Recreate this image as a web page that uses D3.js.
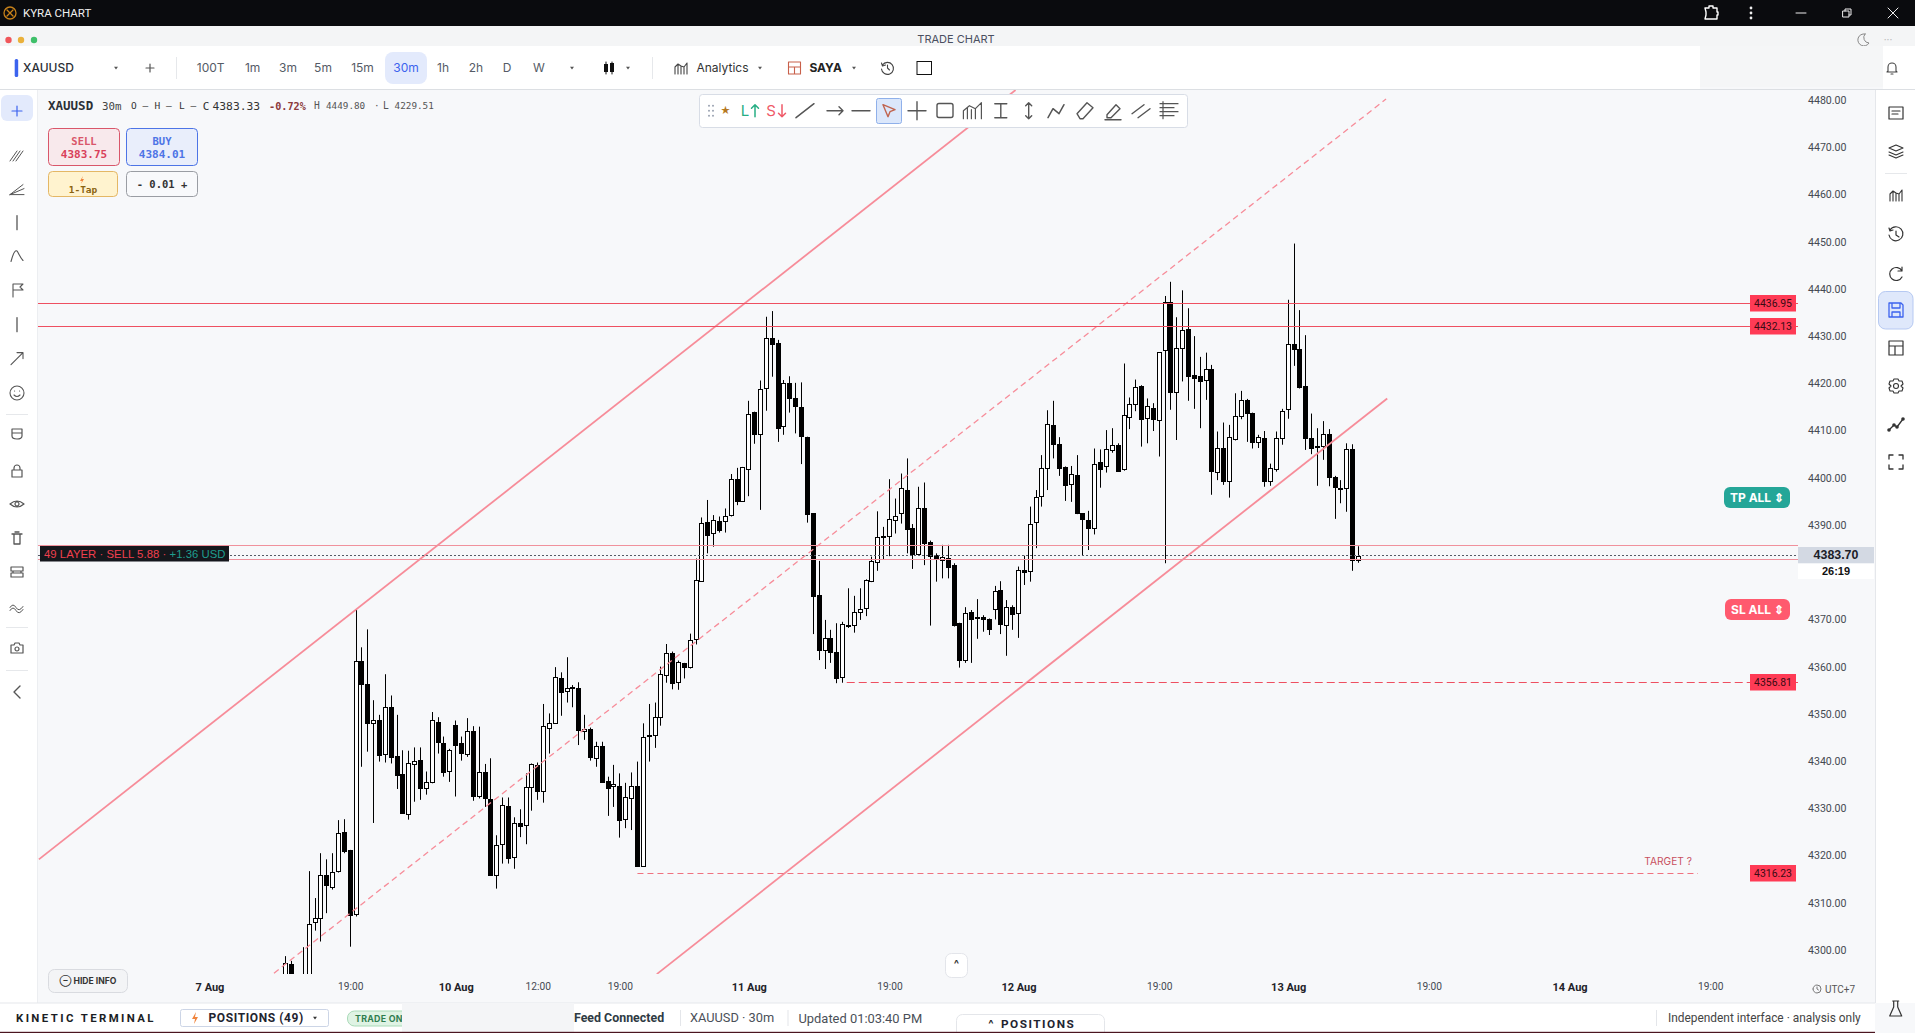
<!DOCTYPE html>
<html>
<head>
<meta charset="utf-8">
<title>KYRA CHART</title>
<script src="https://cdn.jsdelivr.net/npm/d3@7"></script>
<style>
html, body { margin: 0; padding: 0; background: #f7f8fa; overflow: hidden; }
svg { display: block; }
</style>
</head>
<body>
<div id="chart"></div>
<script>
// 30m bars, oldest first
const opens = [
  4292.0,4297.0,4288.0,4289.0,4293.5,4305.8,4306.7,4315.8,4313.4,4316.6,
  4324.9,4321.2,4307.5,4361.1,4356.3,4348.2,4348.6,4341.4,4351.4,4341.1,
  4337.2,4328.7,4339.5,4340.2,4334.2,4335.5,4348.2,4343.9,4337.8,4347.6,
  4343.8,4341.4,4346.3,4332.5,4337.6,4331.9,4315.9,4322.4,4330.4,4319.6,
  4326.8,4326.6,4334.4,4339.1,4333.6,4346.9,4348.2,4357.7,4354.8,4355.6,
  4355.4,4346.4,4346.9,4340.8,4343.3,4335.7,4334.6,4334.7,4327.7,4332.3,
  4334.7,4317.9,4345.5,4345.5,4349.3,4358.2,4362.8,4356.6,4360.8,4359.9,
  4365.8,4378.3,4390.6,4388.2,4390.8,4391.0,4392.0,4399.7,4395.1,4402.0,
  4413.9,4409.3,4419.1,4429.6,4428.5,4410.9,4420.0,4416.8,4414.9,4408.6,
  4392.5,4375.1,4363.4,4366.0,4363.1,4357.7,4368.8,4368.9,4371.7,4372.3,
  4378.0,4382.0,4387.6,4387.6,4391.2,4392.5,4397.5,4389.3,4384.0,4393.7,
  4386.5,4383.6,4382.7,4383.1,4381.5,4369.2,4361.3,4371.5,4370.6,4370.6,
  4370.0,4372.3,4376.2,4368.9,4372.7,4371.3,4380.4,4380.4,4390.6,4396.0,
  4402.0,4411.1,4407.1,4402.3,4398.6,4400.5,4392.5,4391.0,4389.4,4403.3,
  4402.4,4406.0,4406.9,4401.7,4412.9,4415.6,4419.4,4412.5,4414.8,4412.3,
  4427.0,4437.2,4418.1,4427.6,4431.5,4421.8,4421.6,4420.6,4423.0,4401.4,
  4406.4,4399.3,4408.1,4413.0,4416.5,4413.7,4407.5,4408.4,4399.2,4401.9,
  4408.4,4414.5,4428.3,4427.2,4419.4,4408.4,4406.7,4406.6,4409.2,4400.1,
  4397.8,4397.8,4406.2,4382.7
];
const highs = [
  4298.7,4297.7,4293.4,4300.6,4316.7,4311.0,4320.5,4319.2,4320.5,4327.5,
  4327.7,4321.2,4372.0,4364.1,4367.9,4352.9,4349.8,4358.4,4353.9,4349.8,
  4342.3,4342.2,4342.9,4342.9,4337.8,4350.4,4349.3,4345.2,4342.6,4348.6,
  4345.2,4349.1,4347.4,4347.3,4339.4,4340.6,4324.3,4332.3,4332.3,4328.1,
  4329.8,4337.4,4339.5,4339.7,4352.1,4350.1,4359.9,4358.8,4362.0,4356.1,
  4356.7,4349.8,4347.1,4344.1,4344.1,4336.7,4339.2,4337.4,4335.4,4337.6,
  4339.9,4348.0,4352.1,4352.4,4360.0,4364.8,4363.2,4361.3,4360.8,4367.0,
  4382.9,4391.6,4395.3,4392.1,4391.8,4393.5,4400.8,4402.1,4402.3,4416.3,
  4414.0,4420.6,4434.1,4435.3,4429.2,4420.7,4421.5,4420.1,4420.2,4408.7,
  4392.5,4382.4,4369.9,4367.8,4369.2,4369.5,4376.6,4375.0,4376.6,4378.5,
  4383.3,4392.9,4389.6,4399.7,4395.6,4400.9,4404.1,4390.2,4398.1,4399.0,
  4386.7,4384.0,4385.8,4385.8,4381.9,4369.3,4372.6,4372.0,4374.3,4370.9,
  4370.2,4377.1,4378.1,4374.1,4373.0,4381.2,4383.5,4393.9,4397.4,4404.8,
  4414.3,4416.3,4408.6,4402.4,4402.5,4404.8,4392.5,4393.0,4406.2,4406.0,
  4410.1,4410.5,4407.3,4424.2,4417.0,4420.8,4419.6,4416.8,4415.8,4426.6,
  4438.5,4441.5,4434.0,4439.7,4435.9,4430.0,4425.6,4426.5,4423.9,4409.8,
  4411.7,4411.2,4417.9,4418.4,4416.7,4413.8,4409.1,4409.9,4403.0,4409.8,
  4414.6,4437.7,4449.6,4435.5,4430.2,4413.6,4410.5,4412.0,4410.3,4400.4,
  4399.5,4407.3,4407.1,4385.5
];
const lows = [
  4290.5,4289.0,4285.0,4286.0,4290.0,4304.1,4301.8,4307.8,4312.8,4316.4,
  4320.5,4300.7,4307.1,4338.8,4342.0,4326.9,4339.9,4339.7,4339.5,4334.1,
  4328.8,4327.6,4331.4,4331.8,4332.9,4335.3,4341.6,4336.7,4335.6,4332.5,
  4340.1,4340.9,4331.6,4332.1,4330.3,4315.9,4313.0,4318.3,4318.3,4317.2,
  4323.9,4322.4,4329.5,4331.8,4331.2,4341.6,4348.0,4349.6,4352.4,4351.4,
  4343.4,4344.5,4340.1,4338.8,4335.5,4328.4,4330.3,4323.8,4325.8,4325.4,
  4317.8,4317.6,4339.9,4342.8,4347.5,4356.6,4355.2,4355.1,4357.5,4359.6,
  4364.7,4378.2,4384.0,4385.4,4388.4,4388.4,4391.8,4394.2,4394.9,4396.1,
  4407.2,4393.2,4414.2,4421.4,4407.6,4409.1,4413.8,4409.4,4402.9,4390.5,
  4366.9,4361.4,4359.5,4360.8,4356.5,4356.6,4368.2,4367.2,4369.9,4370.7,
  4377.9,4380.3,4382.6,4383.4,4388.2,4390.3,4384.0,4380.7,4383.6,4381.5,
  4368.7,4378.0,4378.7,4378.7,4368.5,4359.8,4360.8,4360.8,4365.9,4367.4,
  4366.7,4370.0,4366.9,4362.3,4367.8,4366.1,4377.3,4378.0,4385.1,4393.9,
  4397.4,4404.1,4400.4,4395.1,4394.9,4392.3,4383.5,4384.7,4388.0,4397.9,
  4401.1,4405.3,4401.3,4401.5,4410.3,4414.1,4406.6,4407.3,4409.9,4404.5,
  4381.9,4414.4,4408.0,4420.4,4416.3,4414.6,4410.5,4416.5,4396.4,4399.5,
  4398.5,4395.8,4407.9,4412.4,4407.6,4406.2,4406.3,4398.1,4398.3,4401.3,
  4407.0,4412.5,4423.7,4418.9,4405.9,4405.0,4398.3,4403.8,4398.2,4391.3,
  4394.6,4392.8,4380.3,4382.0
];
const closes = [
  4297.2,4291.0,4291.0,4293.5,4305.6,4306.7,4315.8,4313.6,4316.6,4324.7,
  4320.8,4307.5,4361.1,4356.3,4348.0,4348.8,4341.2,4351.4,4340.8,4337.1,
  4328.9,4339.5,4340.1,4334.2,4335.5,4348.6,4343.9,4337.8,4342.3,4343.3,
  4341.6,4346.3,4332.5,4337.6,4332.0,4315.9,4322.3,4330.6,4319.3,4326.8,
  4326.1,4334.6,4339.3,4333.7,4347.4,4348.0,4357.9,4354.7,4355.4,4355.3,
  4346.4,4346.9,4340.9,4343.3,4335.6,4334.2,4335.1,4327.4,4332.3,4334.8,
  4317.8,4345.2,4345.2,4349.3,4358.4,4362.8,4356.5,4360.9,4360.0,4365.6,
  4378.3,4390.5,4387.9,4391.0,4389.0,4392.0,4399.7,4395.1,4402.2,4413.6,
  4409.3,4418.9,4429.7,4428.4,4410.6,4420.0,4416.8,4415.1,4408.8,4392.2,
  4375.0,4363.4,4366.0,4363.0,4357.7,4369.0,4368.6,4371.6,4372.3,4378.3,
  4382.3,4387.4,4387.4,4391.2,4392.0,4397.8,4389.2,4383.7,4393.7,4386.2,
  4383.6,4382.7,4383.3,4381.2,4368.9,4361.3,4371.3,4370.1,4370.4,4370.2,
  4367.8,4376.1,4368.9,4372.7,4371.3,4380.4,4380.0,4390.3,4396.0,4402.0,
  4411.3,4407.1,4402.0,4398.5,4400.7,4392.4,4391.2,4389.4,4403.0,4401.9,
  4406.0,4407.0,4401.3,4413.2,4415.6,4419.2,4412.5,4415.1,4412.5,4426.6,
  4437.2,4418.2,4427.4,4431.4,4421.6,4421.2,4420.6,4423.0,4401.3,4406.4,
  4399.4,4408.6,4413.0,4416.4,4413.8,4407.5,4408.6,4399.2,4402.0,4408.4,
  4414.1,4428.3,4427.2,4419.1,4408.3,4406.2,4406.4,4409.2,4400.0,4397.9,
  4397.5,4406.0,4382.6,4383.5
];

const yTicks = [4480,4470,4460,4450,4440,4430,4420,4410,4400,4390,4370,4360,4350,4340,4330,4320,4310,4300];
const xTickBars = [-13,11,29,43,57,79,103,125,149,171,195,219,243];
const xTickLabels = ['7 Aug','19:00','10 Aug','12:00','19:00','11 Aug','19:00','12 Aug','19:00','13 Aug','19:00','14 Aug','19:00'];

// drawn objects as [bar, price] pairs
const channelLines = [
  { from: [-42.1, 4319.2], to: [124.5, 4482.1], dashed: false },
  { from: [-2.0, 4295.1], to: [187.7, 4480.2], dashed: true },
  { from: [63.3, 4294.9], to: [187.9, 4416.8], dashed: false }
];
const levelPrices = [4436.95, 4432.13, 4356.81, 4316.23];
const levelStartBars = [null, null, 95.7, 60];
const levelDashed = [false, false, true, true];
const layerPrices = [4385.7, 4382.75];
const lastPrice = 4383.70;

const width = 1915, height = 1033;
const svg = d3.select('#chart').append('svg').attr('width', width).attr('height', height);
const UI = 'Inter, "Noto Sans", sans-serif';
const MONO = '"DejaVu Sans Mono", monospace';

const x = d3.scaleLinear().domain([0, opens.length - 1]).range([285.7, 1358.5]);
const y = d3.scaleLinear().domain([4300, 4480]).range([950, 100]);

function box(p, a, b, w, h, fill, stroke, r) {
  return p.append('rect').attr('x', a).attr('y', b).attr('width', w).attr('height', h)
    .attr('fill', fill).attr('stroke', stroke || 'none').attr('rx', r || 0);
}
function label(p, a, b, s, size, color, opts) {
  opts = opts || {};
  return p.append('text').attr('x', a).attr('y', b).attr('dy', '.35em').text(s)
    .attr('font-size', size).attr('fill', color)
    .attr('font-family', opts.font || UI)
    .attr('font-weight', opts.weight || 400)
    .attr('text-anchor', opts.anchor || 'start')
    .attr('letter-spacing', opts.spacing || 0);
}
function icon(p, a, b, d, color, sw, fill) {
  return p.append('path').attr('transform', `translate(${a},${b})`).attr('d', d)
    .attr('fill', fill || 'none').attr('stroke', color).attr('stroke-width', sw || 1.3)
    .attr('stroke-linecap', 'round').attr('stroke-linejoin', 'round');
}
function caret(p, a, b, color) {
  icon(p, a, b, 'M-2,-1.2L2,-1.2L0,1.5Z', 'none', 0, color || '#555');
}

// ---- chart area
box(svg, 0, 0, width, height, '#f7f8fa');
svg.append('clipPath').attr('id', 'plot').append('rect').attr('x', 38).attr('y', 90).attr('width', 1837).attr('height', 884);
const plot = svg.append('g').attr('clip-path', 'url(#plot)');

// ---- candles
const bars = d3.range(opens.length);
const px = i => Math.floor(x(i)) + 0.5;
const candle = plot.append('g').selectAll('g').data(bars).enter().append('g');
candle.append('line')
  .attr('x1', px).attr('x2', px)
  .attr('y1', i => y(highs[i])).attr('y2', i => y(lows[i]))
  .attr('stroke', '#000').attr('stroke-width', 1);
candle.append('rect')
  .attr('x', i => px(i) - 2)
  .attr('width', 4)
  .attr('y', i => Math.round(y(Math.max(opens[i], closes[i]))) + 0.5)
  .attr('height', i => Math.max(1, Math.round(Math.abs(y(opens[i]) - y(closes[i])))))
  .attr('fill', i => closes[i] >= opens[i] ? '#fff' : '#000')
  .attr('stroke', '#000').attr('stroke-width', 1);

// ---- channel and levels
plot.append('g').selectAll('line').data(channelLines).enter().append('line')
  .attr('x1', d => x(d.from[0])).attr('y1', d => y(d.from[1]))
  .attr('x2', d => x(d.to[0])).attr('y2', d => y(d.to[1]))
  .attr('stroke', '#f78c99').attr('stroke-width', d => d.dashed ? 1.3 : 1.8)
  .attr('stroke-dasharray', d => d.dashed ? '6 4' : null);

const levelRight = [1798, 1798, 1798, 1698];
plot.append('g').selectAll('line').data(levelPrices).enter().append('line')
  .attr('x1', (d, i) => levelStartBars[i] === null ? 38 : x(levelStartBars[i]))
  .attr('x2', (d, i) => levelRight[i])
  .attr('y1', d => Math.round(y(d)) + 0.5).attr('y2', d => Math.round(y(d)) + 0.5)
  .attr('stroke', '#ee4f60').attr('stroke-width', (d, i) => i === 3 ? 0.8 : 1)
  .attr('stroke-dasharray', (d, i) => levelDashed[i] ? (i === 3 ? '6 4' : '8 4') : null);

plot.append('g').selectAll('line').data(layerPrices).enter().append('line')
  .attr('x1', 38).attr('x2', 1798)
  .attr('y1', d => Math.round(y(d)) + 0.5).attr('y2', d => Math.round(y(d)) + 0.5)
  .attr('stroke', '#f0919c').attr('stroke-width', 1);
plot.append('line').attr('x1', 38).attr('x2', 1798)
  .attr('y1', Math.round(y(lastPrice)) + 0.5).attr('y2', Math.round(y(lastPrice)) + 0.5)
  .attr('stroke', '#555b66').attr('stroke-width', 1).attr('stroke-dasharray', '2 2');

label(svg, 1692, 861, 'TARGET ?', 10.2, '#c8505f', { anchor: 'end' });

svg.append('g').selectAll('g').data(levelPrices).enter().append('g').each(function(d) {
  const g = d3.select(this);
  box(g, 1750, Math.round(y(d)) - 8, 46, 16.5, '#ff3b55');
  label(g, 1773, Math.round(y(d)) + 0.2, d.toFixed(2), 10.4, '#3b0b14', { anchor: 'middle', font: 'Roboto, sans-serif' });
});

// ---- axes
const yAxis = svg.append('g').attr('transform', 'translate(1808,0)')
  .call(d3.axisRight(y).tickValues(yTicks).tickSize(0).tickPadding(0).tickFormat(d3.format('.2f')));
yAxis.select('.domain').remove();
yAxis.selectAll('text').attr('font-family', 'Roboto, sans-serif').attr('font-size', 10.6).attr('fill', '#454a52');

const xAxis = svg.append('g').attr('transform', 'translate(0,981)')
  .call(d3.axisBottom(x).tickValues(xTickBars).tickSize(0).tickPadding(0)
    .tickFormat(d => xTickLabels[xTickBars.indexOf(d)]));
xAxis.select('.domain').remove();
xAxis.selectAll('text').attr('font-family', 'Roboto, sans-serif').attr('dy', '.9em')
  .attr('font-size', d => xTickLabels[xTickBars.indexOf(d)].includes('Aug') ? 11 : 10.2)
  .attr('font-weight', d => xTickLabels[xTickBars.indexOf(d)].includes('Aug') ? 700 : 400)
  .attr('fill', d => xTickLabels[xTickBars.indexOf(d)].includes('Aug') ? '#1f2329' : '#454a52');

// last price tag
box(svg, 1798, 547, 76, 16.5, '#d3d9e3');
box(svg, 1798, 563.5, 76, 15.5, '#fff');
label(svg, 1836, 555, '4383.70', 12.4, '#1c2028', { anchor: 'middle', weight: 700, font: '"Liberation Sans", sans-serif' });
label(svg, 1836, 571.5, '26:19', 11, '#111', { anchor: 'middle', weight: 700, font: '"Liberation Sans", sans-serif' });

// tp / sl pills
box(svg, 1724, 487, 66, 21, '#24a698', null, 6);
label(svg, 1757, 497.5, 'TP ALL ⇕', 12, '#fff', { anchor: 'middle', weight: 700 });
box(svg, 1725, 599, 65, 21, '#ff5a6e', null, 6);
label(svg, 1757.5, 609.5, 'SL ALL ⇕', 12, '#fff', { anchor: 'middle', weight: 700 });

// layer tag
box(svg, 40, 546, 189, 15.5, '#15171c');
const layerText = label(svg, 44, 553.8, '49 LAYER · SELL 5.88 · ', 11.3, '#f0404f', { font: '"Liberation Sans", sans-serif', spacing: 0.05 });
layerText.append('tspan').text('+1.36 USD').attr('fill', '#1f9e8f');

// ---- legend, order tickets
label(svg, 48, 106, 'XAUUSD', 12.5, '#2b2f36', { font: MONO, weight: 700 });
label(svg, 102, 106, '30m', 10.8, '#444', { font: MONO });
label(svg, 131, 106, 'O —', 9.5, '#333', { font: MONO });
label(svg, 154.5, 106, 'H —', 9.5, '#333', { font: MONO });
label(svg, 179, 106, 'L —', 9.5, '#333', { font: MONO });
label(svg, 202.7, 106, 'C', 11, '#333', { font: MONO });
label(svg, 212.5, 106, '4383.33', 11.3, '#333', { font: MONO });
label(svg, 269, 106, '-0.72%', 10.2, '#8b3a3a', { font: MONO, weight: 700 });
label(svg, 314, 106, 'H', 9.6, '#555', { font: MONO });
label(svg, 326, 106, '4449.80', 9.3, '#555', { font: MONO });
label(svg, 374, 106, '·', 9.3, '#555', { font: MONO });
label(svg, 383, 106, 'L', 9.6, '#555', { font: MONO });
label(svg, 394.6, 106, '4229.51', 9.3, '#555', { font: MONO });

box(svg, 48.5, 128.5, 71, 37, '#f8e9ec', '#d9566a', 4);
label(svg, 84, 141, 'SELL', 10.5, '#d9566a', { font: MONO, anchor: 'middle', weight: 700 });
label(svg, 84, 154, '4383.75', 11, '#d9405a', { font: MONO, anchor: 'middle', weight: 700 });
box(svg, 126.5, 128.5, 71, 37, '#e9eefb', '#4d74e6', 4);
label(svg, 162, 141, 'BUY', 10.5, '#4d74e6', { font: MONO, anchor: 'middle', weight: 700 });
label(svg, 162, 154, '4384.01', 11, '#4d74e6', { font: MONO, anchor: 'middle', weight: 700 });
box(svg, 48.5, 171.5, 69, 25, '#fff3cf', '#e4b765', 4);
icon(svg, 82, 180, 'M1,-4L-2,1L0,1L-1,4L2,-1L0,-1Z', 'none', 0, '#f0843c');
label(svg, 83, 189.5, '1-Tap', 9.5, '#8a6210', { font: MONO, anchor: 'middle', weight: 700 });
box(svg, 126.5, 171.5, 71, 25, '#f8f9fb', '#9a9da3', 4);
label(svg, 162, 184, '- 0.01 +', 10.5, '#333', { font: MONO, anchor: 'middle', weight: 700 });

box(svg, 48.5, 969.5, 79, 23, '#f3f4f6', '#d9dbe0', 6);
label(svg, 88, 981, '⊖ HIDE INFO', 8.6, '#333', { anchor: 'middle', weight: 700 });
box(svg, 945.5, 953.5, 22, 24, '#fff', '#e3e5ea', 6);
label(svg, 956.5, 964, '^', 11, '#333', { anchor: 'middle', weight: 700 });
icon(svg, 1817, 989, 'M-4,0A4,4 0 1 0 4,0A4,4 0 1 0 -4,0M0,-2L0,0L1.5,1', '#777', 1);
label(svg, 1825, 989, 'UTC+7', 10, '#555', { font: 'Roboto, sans-serif' });

// ---- title bar
box(svg, 0, 0, width, 26, '#0a0b0e');
icon(svg, 10, 13, 'M-6,0A6,6 0 1 0 6,0A6,6 0 1 0 -6,0M-3,-3L3,3M3,-3L-3,3', '#c8821a', 1.3);
label(svg, 23, 13, 'KYRA CHART', 11.5, '#f0f0f0', { font: 'Roboto, sans-serif' });
icon(svg, 1711, 13, 'M-6,-5L-2,-5L-2,-7L2,-7L2,-5L6,-5L6,-1L7,-1L7,2L6,2L6,6L-6,6L-5,2L-5,-1Z', '#fff', 1.4);
svg.append('g').selectAll('circle').data([8, 13, 18]).enter().append('circle')
  .attr('cx', 1751).attr('cy', d => d).attr('r', 1.4).attr('fill', '#eee');
icon(svg, 1801, 13, 'M-5,0L5,0', '#eee', 1);
icon(svg, 1847, 13, 'M-4,-2L2,-2L2,4L-4,4ZM-2,-2L-2,-4L4,-4L4,2L2,2', '#eee', 1);
icon(svg, 1893, 13, 'M-5,-5L5,5M5,-5L-5,5', '#eee', 1);

// ---- window strip
box(svg, 0, 26, width, 20, '#f4f5f6');
svg.append('g').selectAll('circle').data([[8.5, '#f0565a'], [21, '#eab13b'], [34, '#3fc06a']]).enter().append('circle')
  .attr('cx', d => d[0]).attr('cy', 40).attr('r', 3.2).attr('fill', d => d[1]);
label(svg, 956, 39, 'TRADE CHART', 11, '#4a4f60', { anchor: 'middle', font: 'Inter, sans-serif' });
icon(svg, 1863, 40, 'M2,-6A6,6 0 1 0 6,3A5.5,5.5 0 0 1 2,-6Z', '#888', 1);
label(svg, 1888, 39, '···', 10, '#bbb', { anchor: 'middle' });

// ---- top toolbar
box(svg, 0, 46, 1700, 43, '#fff');
box(svg, 1700, 46, 183, 41, '#f5f6f7');
box(svg, 1883, 46, 32, 43, '#fff');
box(svg, 0, 89, width, 1, '#dcdfe3');
icon(svg, 1892, 68, 'M-4,3L-4,-1A4,4 0 0 1 4,-1L4,3L5,4L-5,4ZM-1,6L1,6', '#444', 1.1);

box(svg, 14.7, 59, 3.5, 18, '#3c63ee', null, 1.5);
label(svg, 23, 68, 'XAUUSD', 12, '#2b2f36', { font: 'Inter, sans-serif', weight: 500 });
caret(svg, 116, 68);
icon(svg, 150, 68, 'M-4,0L4,0M0,-4L0,4', '#555', 1.2);
box(svg, 176, 57, 1, 22, '#e6e8eb');
box(svg, 385, 52, 42, 32, '#e3eafc', null, 8);
const intervals = [['100T', 210.7], ['1m', 252.7], ['3m', 288], ['5m', 323], ['15m', 362.5], ['30m', 406], ['1h', 443], ['2h', 476], ['D', 507], ['W', 539]];
svg.append('g').selectAll('text').data(intervals).enter().append('text')
  .attr('x', d => d[1]).attr('y', 68).attr('dy', '.35em').attr('text-anchor', 'middle')
  .attr('font-family', UI).attr('font-size', 12).text(d => d[0])
  .attr('fill', d => d[0] === '30m' ? '#3c63ee' : '#555b66');
caret(svg, 572, 68);
icon(svg, 606, 68, 'M0,-6L0,6', '#111', 1);
box(svg, 604, 64, 4, 8, '#111');
icon(svg, 612, 68, 'M0,-6L0,6', '#111', 1);
box(svg, 610, 63, 4, 9, '#111');
caret(svg, 628, 68);
box(svg, 652, 57, 1, 22, '#e6e8eb');
const chartsIcon = 'M-6,6L-6,-1L-3,-4L-3,6M0,6L0,-2M3,6L3,-1L6,-5L6,6M-3,-4L0,-2L3,-1';
icon(svg, 681, 68, chartsIcon, '#444', 1.1);
label(svg, 696.5, 68, 'Analytics', 12, '#333', { font: 'Inter, sans-serif' });
caret(svg, 760, 68);
icon(svg, 794.5, 68, 'M-6,-6L6,-6L6,6L-6,6ZM-6,-1L6,-1M0,-1L0,6', '#c8604a', 1.1);
label(svg, 809.4, 68, 'SAYA', 12, '#222', { font: 'Inter, sans-serif', weight: 700 });
caret(svg, 854, 68);
const historyIcon = 'M-5,-3A6,6 0 1 1 -6,1M-6,-5L-5,-2L-2,-3M0,-3L0,0L2,2';
icon(svg, 887.5, 68, historyIcon, '#444', 1.1);
box(svg, 917, 61.5, 14.5, 13, 'none', '#111');

// ---- drawing toolbar
box(svg, 699.5, 94.5, 488, 33, '#fff', '#d8dde6', 3);
const ty = 110.7;
svg.append('g').selectAll('circle').data([-5, 0, 5].flatMap(b => [[709, b], [713, b]])).enter().append('circle')
  .attr('cx', d => d[0]).attr('cy', d => ty + d[1]).attr('r', 1).attr('fill', '#9aa3b2');
label(svg, 725.6, ty, '★', 10, '#b5781f', { anchor: 'middle' });
label(svg, 745, ty, 'L', 15, '#27ae84', { anchor: 'middle' });
icon(svg, 755, ty, 'M0,6L0,-6M-3.5,-2.5L0,-6L3.5,-2.5', '#27ae84', 1.5);
label(svg, 771, ty, 'S', 15, '#ef5a68', { anchor: 'middle' });
icon(svg, 782, ty, 'M0,-6L0,6M-3.5,2.5L0,6L3.5,2.5', '#ef5a68', 1.5);
const GREY = '#555';
icon(svg, 805, ty, 'M-9,7L9,-7', GREY, 1.5);
icon(svg, 835, ty, 'M-8,0L8,0M4,-4L8,0L4,4', GREY, 1.4);
icon(svg, 861, ty, 'M-9,0L9,0', GREY, 1.4);
box(svg, 876.5, 98.5, 25, 25, '#dbe7fb', '#8fb0ea', 2);
icon(svg, 889, ty, 'M-6,-6L6,-1L1,1L-1,6Z', '#c0644f', 1.4);
icon(svg, 917, ty, 'M-9,0L9,0M0,-9L0,9', GREY, 1.4);
box(svg, 937, 103.5, 16, 14, 'none', GREY, 2).attr('stroke-width', 1.4);
icon(svg, 972.4, ty, 'M-9,8L-9,0M-5,8L-5,-3M-1,8L-1,-1M3,8L3,-2L9,-8L9,8M-9,0L-3,-5L3,-2', GREY, 1.2);
icon(svg, 1000.8, ty, 'M-6,-7L6,-7M-6,7L6,7M0,-7L0,7', GREY, 1.4);
icon(svg, 1028.7, ty, 'M0,-8L0,8M-3,-5L0,-8L3,-5M-3,5L0,8L3,5', GREY, 1.4);
icon(svg, 1056, ty, 'M-8,7L-3,-2L3,3L8,-6', GREY, 1.5);
icon(svg, 1085, ty, 'M-8,3L2,-8L8,-3L-2,8L-5,8Z', GREY, 1.4);
icon(svg, 1113, ty, 'M-6,4L3,-6L7,-2L-2,7L-6,7ZM-8,9L8,9', GREY, 1.4);
icon(svg, 1141, ty, 'M-9,3L3,-6M-3,7L9,-2', GREY, 1.4);
icon(svg, 1169, ty, 'M-9,-7L9,-7M-9,-3L5,-3M-9,1L9,1M-9,5L5,5M-6,-9L-6,8', GREY, 1.2);

// ---- left sidebar
box(svg, 0, 90, 37, 913, '#fff');
box(svg, 37, 90, 1, 913, '#eceef1');
box(svg, 1, 95, 32, 26, '#e3eafc', null, 6);
icon(svg, 17, 111, 'M-5,0L5,0M0,-5L0,5', '#3c63ee', 1.2);
const LG = '#555';
icon(svg, 17, 156, 'M-7,5L0,-5M-4,5L3,-5M-1,5L6,-5', LG, 1);
icon(svg, 17, 189.6, 'M-7,5L6,-5M-7,5L7,-1M-7,5L7,5', LG, 1);
icon(svg, 17, 222.7, 'M0,-7L0,7', LG, 1.3);
icon(svg, 17, 256.5, 'M-6,5Q-2,-10 1,-4T6,4', LG, 1.1);
icon(svg, 17, 290, 'M-4,7L-4,-6L6,-6L3,-3L6,0L-4,0', LG, 1.1);
icon(svg, 17, 324.7, 'M0,-7L0,7', LG, 1.3);
icon(svg, 17, 358.6, 'M-6,6L6,-6M0,-6L6,-6L6,0', LG, 1.1);
icon(svg, 17, 393, 'M-7,0A7,7 0 1 0 7,0A7,7 0 1 0 -7,0M-3,2Q0,5 3,2M-2.5,-2L-2.4,-2M2.5,-2L2.6,-2', LG, 1.1);
box(svg, 6, 414, 22, 1, '#e6e8eb');
icon(svg, 17, 434, 'M-5,-5L5,-5L5,2Q5,5 0,5Q-5,5 -5,2ZM-5,-1L5,-1', LG, 1.2);
icon(svg, 17, 471, 'M-5,-1L5,-1L5,6L-5,6ZM-3,-1L-3,-3A3,3 0 0 1 3,-3L3,-1', LG, 1.2);
icon(svg, 17, 504, 'M-7,0Q0,-6 7,0Q0,6 -7,0ZM-2,0A2,2 0 1 0 2,0A2,2 0 1 0 -2,0', LG, 1.2);
icon(svg, 17, 538, 'M-5,-4L5,-4M-3,-4L-3,6L3,6L3,-4M-2,-6L2,-6', LG, 1.3);
icon(svg, 17, 572, 'M-6,-5L6,-5L6,-1L-6,-1ZM-6,1L6,1L6,5L-6,5ZM-4,-1L-4,1M4,-1L4,1', LG, 1.2);
icon(svg, 17, 607.5, 'M-7,0Q-4,-5 -1,0T6,-1M-7,3Q-4,-2 -1,3T6,2', LG, 1);
box(svg, 6, 627, 22, 1, '#e6e8eb');
icon(svg, 17, 648, 'M-6,-3L-3,-3L-2,-5L2,-5L3,-3L6,-3L6,5L-6,5ZM-2,1A2,2 0 1 0 2,1A2,2 0 1 0 -2,1', LG, 1.2);
box(svg, 6, 670, 22, 1, '#e6e8eb');
icon(svg, 17, 692, 'M3,-6L-3,0L3,6', LG, 1.4);

// ---- right sidebar
box(svg, 1875, 90, 40, 913, '#fff');
box(svg, 1875, 90, 1, 913, '#e5e7eb');
const RD = '#333';
icon(svg, 1896, 113, 'M-7,-6L7,-6L7,6L-7,6ZM-4,-2L4,-2M-4,1L2,1', RD, 1.2);
icon(svg, 1896, 151, 'M-7,-3L0,-6L7,-3L0,0ZM-7,1L0,4L7,1M-7,4L0,7L7,4', RD, 1.1);
box(svg, 1885, 173, 22, 1, '#e6e8eb');
icon(svg, 1896, 195, chartsIcon, RD, 1.1);
icon(svg, 1896, 234, 'M-6,-4A7,7 0 1 1 -7,1M-7,-6L-6,-3L-3,-4M0,-3L0,1L3,3', RD, 1.2);
icon(svg, 1896, 274, 'M6,-3A6.5,6.5 0 1 0 6,3M6,-7L6,-3L2,-3', RD, 1.2);
box(svg, 1878.5, 291.5, 34.5, 37.5, '#dfe8fb', '#b6c9f2', 7);
icon(svg, 1896, 310, 'M-7,-7L5,-7L7,-5L7,7L-7,7ZM-4,-7L-4,-2L4,-2L4,-7M-4,7L-4,2L4,2L4,7', '#3c63ee', 1.3);
icon(svg, 1896, 348, 'M-7,-7L7,-7L7,7L-7,7ZM-7,-2L7,-2M-1,-2L-1,7', RD, 1.2);
icon(svg, 1896, 386, 'M-2.5,0A2.5,2.5 0 1 0 2.5,0A2.5,2.5 0 1 0 -2.5,0M-2,-7L2,-7L3,-5L6,-5L7,-2L5,0L7,2L6,5L3,5L2,7L-2,7L-3,5L-6,5L-7,2L-5,0L-7,-2L-6,-5L-3,-5Z', RD, 1.1);
icon(svg, 1896, 424, 'M-7,6L-2,1L1,3L7,-5', RD, 1.3);
svg.append('g').selectAll('circle').data([[-7, 6], [-2, 1], [1, 3], [7, -5]]).enter().append('circle')
  .attr('cx', d => 1896 + d[0]).attr('cy', d => 424 + d[1]).attr('r', 1.8).attr('fill', RD);
icon(svg, 1896, 462, 'M-7,-3L-7,-7L-3,-7M3,-7L7,-7L7,-3M7,3L7,7L3,7M-3,7L-7,7L-7,3', RD, 1.3);

// ---- footer
box(svg, 0, 1003, 1875, 30, '#fff');
box(svg, 0, 1002.5, 1875, 1, '#e6e8eb');
label(svg, 16, 1018, 'KINETIC TERMINAL', 11.4, '#1b1e24', { font: 'Roboto, sans-serif', weight: 700, spacing: 2.4 });
box(svg, 180.5, 1009.5, 148, 17, '#fff', '#ccd5e6', 2);
icon(svg, 195, 1018, 'M1,-6L-3,1L0,1L-1,6L3,-1L0,-1Z', 'none', 0, '#f0843c');
label(svg, 208.5, 1018, 'POSITIONS (49)', 12, '#1f2430', { font: 'Roboto, sans-serif', weight: 700, spacing: 0.6 });
caret(svg, 315, 1018, '#333');
box(svg, 347.5, 1011, 70, 15, '#dff3e4', '#a9dab8', 7);
label(svg, 355, 1018.5, 'TRADE ON', 8.8, '#2f7d4f', { weight: 700, spacing: 0.3 });
box(svg, 402, 1003, 172, 30, '#f4f5f7');
label(svg, 574, 1018, 'Feed Connected', 12.4, '#2f3b44', { font: 'Roboto, sans-serif', weight: 700 });
box(svg, 680, 1010, 1, 16, '#e4e6ea');
label(svg, 690, 1018, 'XAUUSD · 30m', 12.8, '#4a4f58', { font: 'Roboto, sans-serif' });
box(svg, 787.5, 1010, 1, 16, '#e4e6ea');
label(svg, 798.5, 1018, 'Updated 01:03:40 PM', 12.9, '#4a4f58', { font: 'Roboto, sans-serif' });
box(svg, 956.5, 1014.5, 148, 24, '#fff', '#e4e6ea', 6);
label(svg, 991, 1024, '^', 11, '#222', { anchor: 'middle', weight: 700 });
label(svg, 1001, 1024, 'POSITIONS', 11.8, '#1f2430', { font: 'Roboto, sans-serif', weight: 700, spacing: 1.5 });
box(svg, 1656, 1010, 1, 16, '#e4e6ea');
label(svg, 1668, 1018, 'Independent interface · analysis only', 11.9, '#444', { font: 'Roboto, sans-serif' });
icon(svg, 1895.7, 1009, 'M-3,-8L3,-8M-2,-8L-2,-2L-6,7L6,7L2,-2L2,-8', '#333', 1.2);
box(svg, 0, 1031.8, 1875, 1.2, '#4a1520');
</script>
</body>
</html>
